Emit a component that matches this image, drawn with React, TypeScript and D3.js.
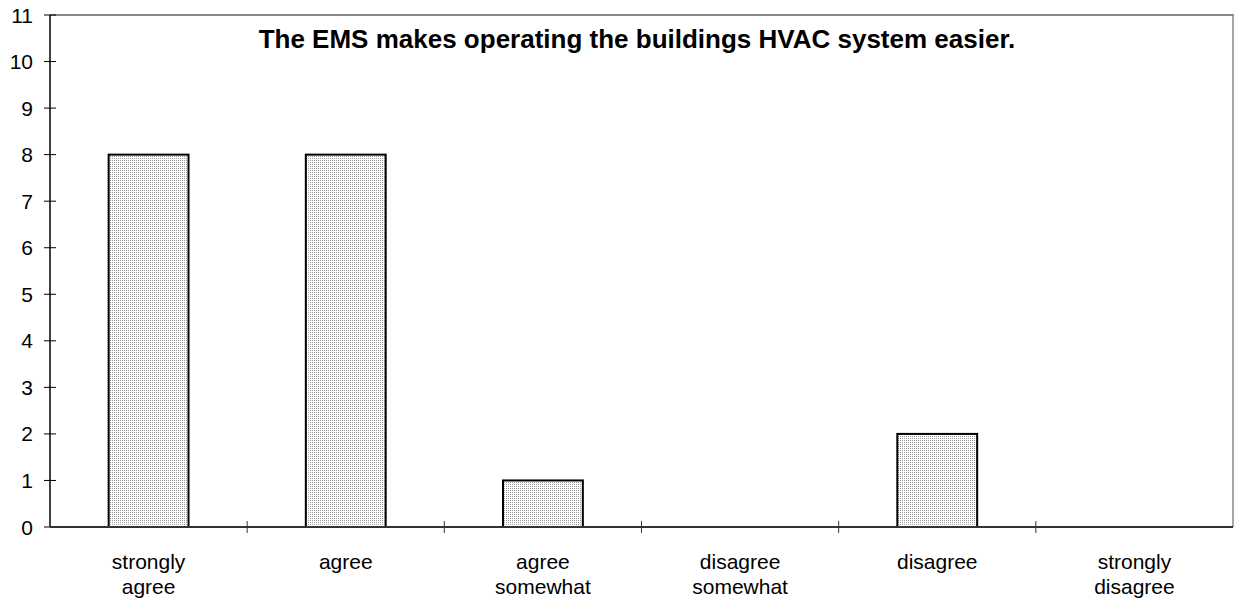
import React, { useEffect, useRef } from "react";
import * as d3 from "d3";

const categories = ["strongly agree", "agree", "agree somewhat", "disagree somewhat", "disagree", "strongly disagree"];
const values = [8, 8, 1, 0, 2, 0];
const yTicks = [0, 1, 2, 3, 4, 5, 6, 7, 8, 9, 10, 11];
const title = "The EMS makes operating the buildings HVAC system easier.";

const W = 1235, H = 603;
const L = 50, R = 1233, T = 15, B = 527;

export default function App() {
  const ref = useRef<SVGSVGElement>(null);
  useEffect(() => {
    const svg = d3.select(ref.current);
    svg.selectAll("*").remove();
    const font = "Liberation Sans, Arial, sans-serif";

    const defs = svg.append("defs");
    const pat = defs.append("pattern").attr("id", "dots").attr("patternUnits", "userSpaceOnUse")
      .attr("width", 2).attr("height", 2);
    pat.append("rect").attr("width", 2).attr("height", 2).attr("fill", "#fff");
    pat.append("rect").attr("width", 1).attr("height", 1).attr("fill", "#9a9a9a");

    const x = d3.scaleBand<string>().domain(categories).range([L, R]).paddingInner(0).paddingOuter(0);
    const y = d3.scaleLinear().domain([0, 11]).range([B, T]);
    const bw = x.bandwidth() * 0.405;

    // plot frame (top & right gray)
    svg.append("line").attr("x1", L).attr("x2", R + 1).attr("y1", T).attr("y2", T)
      .attr("stroke", "#888").attr("stroke-width", 2);
    svg.append("line").attr("x1", R).attr("x2", R).attr("y1", T).attr("y2", B)
      .attr("stroke", "#888").attr("stroke-width", 1.5);

    // bars
    svg.append("g").selectAll("rect").data(values).join("rect")
      .attr("x", (_d, i) => x(categories[i])! + x.bandwidth() / 2 - bw / 2)
      .attr("width", bw)
      .attr("y", d => y(d))
      .attr("height", d => B - y(d))
      .attr("fill", "url(#dots)")
      .attr("stroke", d => (d > 0 ? "#000" : "none"))
      .attr("stroke-width", 2);

    // y axis
    svg.append("line").attr("x1", L).attr("x2", L).attr("y1", T).attr("y2", B)
      .attr("stroke", "#000").attr("stroke-width", 1.5);
    const yg = svg.append("g");
    yTicks.forEach(t => {
      yg.append("line").attr("x1", L - 6).attr("x2", L + 6).attr("y1", y(t)).attr("y2", y(t))
        .attr("stroke", "#000").attr("stroke-width", 1);
      yg.append("text").attr("x", 33).attr("y", y(t)).attr("dy", "0.36em")
        .attr("text-anchor", "end").attr("font-family", font).attr("font-size", 21).text(String(t));
    });

    // x axis
    svg.append("line").attr("x1", L).attr("x2", R).attr("y1", B).attr("y2", B)
      .attr("stroke", "#333").attr("stroke-width", 2);
    const xg = svg.append("g");
    categories.forEach((c, i) => {
      if (i > 0) {
        xg.append("line").attr("x1", x(c)!).attr("x2", x(c)!).attr("y1", B - 6).attr("y2", B + 6)
          .attr("stroke", "#333").attr("stroke-width", 1);
      }
      const words = c.split(" ");
      const lines = words.length > 1 ? [words[0], words.slice(1).join(" ")] : [c];
      const cx = x(c)! + x.bandwidth() / 2;
      lines.forEach((ln, j) => {
        xg.append("text").attr("x", cx).attr("y", 569 + j * 25)
          .attr("text-anchor", "middle").attr("font-family", font).attr("font-size", 21).text(ln);
      });
    });

    svg.append("text").attr("x", 637).attr("y", 48).attr("text-anchor", "middle")
      .attr("font-family", font).attr("font-size", 26).attr("font-weight", "bold").text(title);
  }, []);
  return (
    <svg ref={ref} width={W} height={H} style={{ position: "absolute", left: 0, top: 0, background: "#fff" }} />
  );
}
